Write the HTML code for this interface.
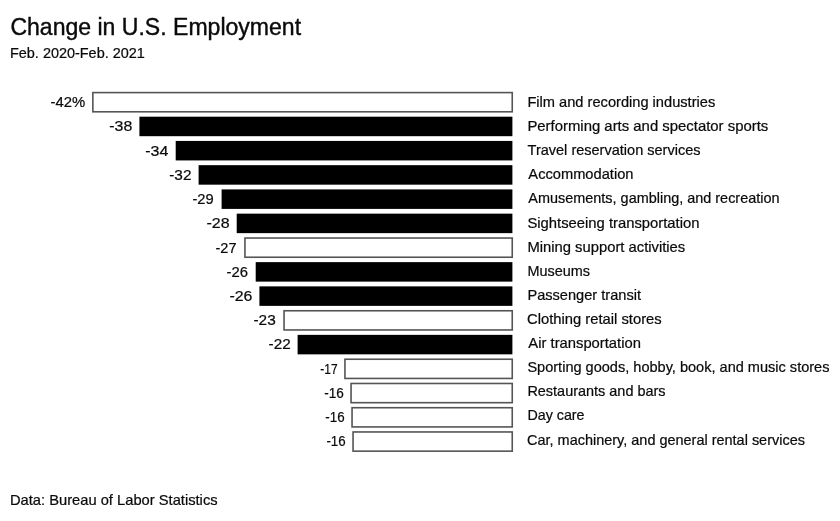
<!DOCTYPE html>
<html><head><meta charset="utf-8"><title>Change in U.S. Employment</title>
<style>
html,body{margin:0;padding:0;background:#fff;}
body{width:840px;height:521px;overflow:hidden;font-family:"Liberation Sans",sans-serif;}
svg{display:block;will-change:transform;}
text{font-family:"Liberation Sans",sans-serif;fill:#0a0a0a;stroke:#0a0a0a;stroke-width:0.22px;}
</style></head><body>
<svg width="840" height="521" viewBox="0 0 840 521">
<rect x="0" y="0" width="840" height="521" fill="#ffffff"/>
<text x="10.42" y="34.60" font-size="23.5" style="stroke-width:0.4px" textLength="290.68" lengthAdjust="spacingAndGlyphs">Change in U.S. Employment</text>
<text x="10.00" y="58.30" font-size="14" textLength="134.80" lengthAdjust="spacingAndGlyphs">Feb. 2020-Feb. 2021</text>
<rect x="92.85" y="92.60" width="419.40" height="19.20" fill="#fff" stroke="#555" stroke-width="1.6"/>
<text x="50.44" y="107.25" font-size="15" textLength="34.69" lengthAdjust="spacingAndGlyphs">-42%</text>
<text x="527.40" y="107.00" font-size="15" textLength="187.86" lengthAdjust="spacingAndGlyphs">Film and recording industries</text>
<rect x="139.4" y="116.69" width="373.0" height="19.5" fill="#000"/>
<text x="109.30" y="131.46" font-size="15" textLength="23.00" lengthAdjust="spacingAndGlyphs">-38</text>
<text x="527.40" y="131.11" font-size="15" textLength="240.86" lengthAdjust="spacingAndGlyphs">Performing arts and spectator sports</text>
<rect x="175.7" y="140.93" width="336.7" height="19.5" fill="#000"/>
<text x="145.20" y="155.67" font-size="15" textLength="23.10" lengthAdjust="spacingAndGlyphs">-34</text>
<text x="527.56" y="155.22" font-size="15" textLength="172.94" lengthAdjust="spacingAndGlyphs">Travel reservation services</text>
<rect x="198.6" y="165.17" width="313.8" height="19.5" fill="#000"/>
<text x="169.26" y="179.88" font-size="15" textLength="22.22" lengthAdjust="spacingAndGlyphs">-32</text>
<text x="528.36" y="179.33" font-size="15" textLength="105.10" lengthAdjust="spacingAndGlyphs">Accommodation</text>
<rect x="221.6" y="189.41" width="290.8" height="19.5" fill="#000"/>
<text x="192.44" y="204.09" font-size="15" textLength="21.22" lengthAdjust="spacingAndGlyphs">-29</text>
<text x="528.36" y="203.44" font-size="15" textLength="251.14" lengthAdjust="spacingAndGlyphs">Amusements, gambling, and recreation</text>
<rect x="236.7" y="213.65" width="275.7" height="19.5" fill="#000"/>
<text x="206.50" y="228.30" font-size="15" textLength="23.10" lengthAdjust="spacingAndGlyphs">-28</text>
<text x="527.40" y="227.55" font-size="15" textLength="172.10" lengthAdjust="spacingAndGlyphs">Sightseeing transportation</text>
<rect x="244.95" y="238.04" width="267.30" height="19.20" fill="#fff" stroke="#555" stroke-width="1.6"/>
<text x="215.50" y="252.51" font-size="15" textLength="21.00" lengthAdjust="spacingAndGlyphs">-27</text>
<text x="527.40" y="251.66" font-size="15" textLength="157.86" lengthAdjust="spacingAndGlyphs">Mining support activities</text>
<rect x="255.7" y="262.13" width="256.7" height="19.5" fill="#000"/>
<text x="226.56" y="276.72" font-size="15" textLength="21.40" lengthAdjust="spacingAndGlyphs">-26</text>
<text x="527.40" y="275.77" font-size="15" textLength="62.55" lengthAdjust="spacingAndGlyphs">Museums</text>
<rect x="259.4" y="286.37" width="253.0" height="19.5" fill="#000"/>
<text x="229.40" y="300.93" font-size="15" textLength="23.00" lengthAdjust="spacingAndGlyphs">-26</text>
<text x="527.40" y="299.88" font-size="15" textLength="113.59" lengthAdjust="spacingAndGlyphs">Passenger transit</text>
<rect x="284.05" y="310.76" width="228.20" height="19.20" fill="#fff" stroke="#555" stroke-width="1.6"/>
<text x="253.50" y="325.14" font-size="15" textLength="22.22" lengthAdjust="spacingAndGlyphs">-23</text>
<text x="527.08" y="323.99" font-size="15" textLength="134.56" lengthAdjust="spacingAndGlyphs">Clothing retail stores</text>
<rect x="297.6" y="334.85" width="214.8" height="19.5" fill="#000"/>
<text x="268.62" y="349.35" font-size="15" textLength="22.04" lengthAdjust="spacingAndGlyphs">-22</text>
<text x="528.36" y="348.10" font-size="15" textLength="112.54" lengthAdjust="spacingAndGlyphs">Air transportation</text>
<rect x="344.95" y="359.24" width="167.30" height="19.20" fill="#fff" stroke="#555" stroke-width="1.6"/>
<text x="320.26" y="373.56" font-size="15" textLength="17.30" lengthAdjust="spacingAndGlyphs">-17</text>
<text x="527.40" y="372.21" font-size="15" textLength="302.08" lengthAdjust="spacingAndGlyphs">Sporting goods, hobby, book, and music stores</text>
<rect x="351.05" y="383.48" width="161.20" height="19.20" fill="#fff" stroke="#555" stroke-width="1.6"/>
<text x="324.30" y="397.77" font-size="15" textLength="19.60" lengthAdjust="spacingAndGlyphs">-16</text>
<text x="527.40" y="396.32" font-size="15" textLength="138.20" lengthAdjust="spacingAndGlyphs">Restaurants and bars</text>
<rect x="352.05" y="407.72" width="160.20" height="19.20" fill="#fff" stroke="#555" stroke-width="1.6"/>
<text x="325.30" y="421.98" font-size="15" textLength="19.30" lengthAdjust="spacingAndGlyphs">-16</text>
<text x="527.40" y="420.43" font-size="15" textLength="57.18" lengthAdjust="spacingAndGlyphs">Day care</text>
<rect x="353.05" y="431.96" width="159.20" height="19.20" fill="#fff" stroke="#555" stroke-width="1.6"/>
<text x="326.40" y="446.19" font-size="15" textLength="19.20" lengthAdjust="spacingAndGlyphs">-16</text>
<text x="527.08" y="444.54" font-size="15" textLength="277.86" lengthAdjust="spacingAndGlyphs">Car, machinery, and general rental services</text>
<text x="9.90" y="505.10" font-size="15" textLength="207.70" lengthAdjust="spacingAndGlyphs">Data: Bureau of Labor Statistics</text>
</svg></body></html>
